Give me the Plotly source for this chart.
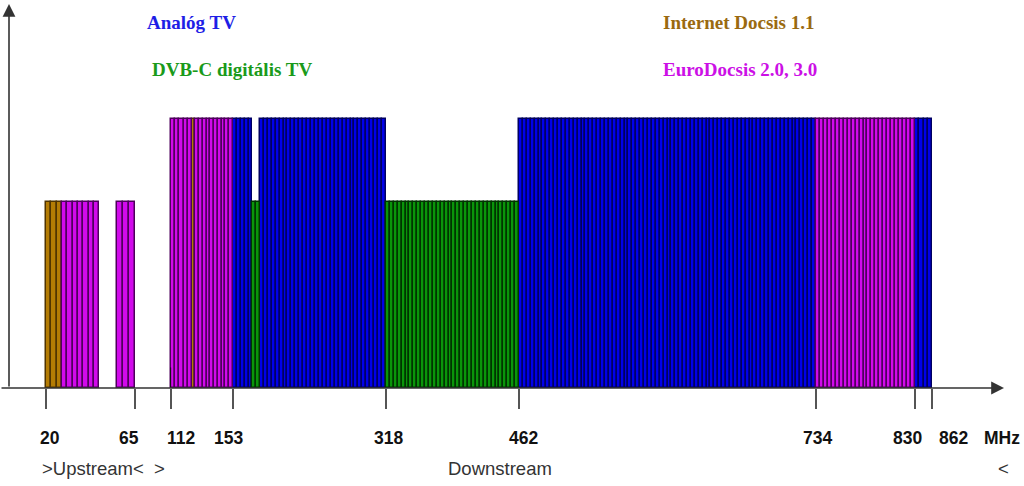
import numpy as np
import plotly.graph_objects as go

# ---------------- data ----------------
# axis breakpoints (MHz) of the non-uniform frequency scale and their relative positions on the drawing
SCALE_MHZ = [20, 65, 112, 153, 318, 462, 734, 830, 862]
SCALE_POS = [46, 135, 171, 233, 386, 519, 816, 915, 932]

TICK_MHZ = [20, 65, 112, 153, 318, 462, 734, 830, 862]
TICK_TEXT = ["20", "65", "112", "153", "318", "462", "734", "830", "862"]

BLOCK_START = [20, 28, 56, 111.5, 112, 126, 128, 153, 174, 182, 318, 462, 734, 830]
BLOCK_END = [28, 47, 65, 112, 126, 128, 153, 174, 182, 318, 462, 734, 830, 862]
BLOCK_SERVICE = ["docsis11", "euro", "euro", "edge", "euro", "docsis11", "euro",
                 "analog", "dvbc", "analog", "dvbc", "analog", "euro", "analog"]
BLOCK_LEVEL = [6.9, 6.9, 6.9, 0.75, 10, 10, 10, 10, 6.9, 10, 6.9, 10, 10, 10]

SERVICES = ["analog", "dvbc", "docsis11", "euro", "edge"]
SERVICE_LABEL = {"analog": "Analóg TV", "dvbc": "DVB-C digitális TV",
                 "docsis11": "Internet Docsis 1.1", "euro": "EuroDocsis 2.0, 3.0", "edge": ""}

# ---------------- style ----------------
FILL = {"analog": "#0000EA", "dvbc": "#0A950A", "docsis11": "#B47C04", "euro": "#D20AEC", "edge": "#111111"}
EDGE = {"analog": "#000060", "dvbc": "#003400", "docsis11": "#503400", "euro": "#4E005C", "edge": "#111111"}
TEXTCOL = {"analog": "#1E1EE6", "dvbc": "#1A9A1A", "docsis11": "#9A6A10", "euro": "#CC10E6"}

PX_PER_UNIT = 26.9
AXIS_PX = 388
H = 486


def scale(f):
    return np.interp(f, SCALE_MHZ, SCALE_POS)


def ydata(px):
    return (AXIS_PX - px) / PX_PER_UNIT


def ypaper(px):
    return (AXIS_PX - px) / AXIS_PX


fig = go.Figure()

for svc in SERVICES:
    xs, ws, ys = [], [], []
    for s, e, sv, lv in zip(BLOCK_START, BLOCK_END, BLOCK_SERVICE, BLOCK_LEVEL):
        if sv != svc:
            continue
        x0, x1 = scale(s), scale(e)
        stripe = 5.3 if e <= 65 else 3.9
        n = max(1, int(round((x1 - x0) / stripe)))
        edges = np.linspace(x0, x1, n + 1)
        if n > 1:
            edges = np.round(edges)
        xs += list((edges[:-1] + edges[1:]) / 2)
        ws += list(np.diff(edges))
        ys += [lv] * n
    fig.add_trace(go.Bar(
        x=xs, y=ys, width=ws, base=0, name=SERVICE_LABEL[svc],
        marker=dict(color=FILL[svc], line=dict(color=EDGE[svc], width=1.5 if svc != "edge" else 0.8)),
        showlegend=False, hoverinfo="skip"))

ann = []
# service labels
legend_items = [("analog", 145, 22), ("dvbc", 150, 69), ("docsis11", 661, 22), ("euro", 661, 69)]
for svc, lx, py in legend_items:
    ann.append(dict(x=lx, y=ypaper(py), xref="x", yref="paper", text=SERVICE_LABEL[svc], showarrow=False,
                    xanchor="left", yanchor="middle",
                    font=dict(family="Liberation Serif", size=19, color=TEXTCOL[svc], weight="bold")))

# tick labels
label_shift = [4, -6, 10, -5, 2, 4, 1, -8, 21]
for f, t, sh in zip(TICK_MHZ, TICK_TEXT, label_shift):
    ann.append(dict(x=scale(f), y=ypaper(438), xref="x", yref="paper", text=t, showarrow=False,
                    xshift=sh, xanchor="center", yanchor="middle",
                    font=dict(family="Liberation Sans", size=17.5, color="#111111", weight="bold")))
ann.append(dict(x=1002, y=ypaper(438), xref="x", yref="paper", text="MHz", showarrow=False,
                xanchor="center", yanchor="middle",
                font=dict(family="Liberation Sans", size=17.5, color="#111111", weight="bold")))

# direction texts
ann.append(dict(x=40, y=ypaper(468), xref="x", yref="paper", text="&gt;Upstream&lt;\u00a0 &gt;", showarrow=False,
                xanchor="left", yanchor="middle", font=dict(family="Liberation Sans", size=18.5, color="#333333")))
ann.append(dict(x=500, y=ypaper(468), xref="x", yref="paper", text="Downstream", showarrow=False,
                xanchor="center", yanchor="middle", font=dict(family="Liberation Sans", size=18.5, color="#333333")))
ann.append(dict(x=1003, y=ypaper(468), xref="x", yref="paper", text="&lt;", showarrow=False,
                xanchor="center", yanchor="middle", font=dict(family="Liberation Sans", size=18.5, color="#333333")))

# axis arrows
ann.append(dict(x=9, y=ydata(4), ax=9, ay=ydata(AXIS_PX), xref="x", yref="y", axref="x", ayref="y",
                text="", showarrow=True, arrowhead=2, arrowsize=1.6, arrowwidth=1.6, arrowcolor="#333333"))
ann.append(dict(x=1004, y=0, ax=0, ay=0, xref="x", yref="y", axref="x", ayref="y",
                text="", showarrow=True, arrowhead=2, arrowsize=1.6, arrowwidth=1.6, arrowcolor="#333333"))

fig.update_layout(
    width=1024, height=H,
    margin=dict(l=0, r=0, t=0, b=H - AXIS_PX, pad=0),
    paper_bgcolor="white", plot_bgcolor="white",
    barmode="overlay", bargap=0,
    annotations=ann,
    xaxis=dict(range=[0, 1024], showgrid=False, zeroline=False, showline=False,
               tickvals=[scale(f) for f in TICK_MHZ], ticktext=TICK_TEXT, showticklabels=False,
               ticks="outside", ticklen=20, tickwidth=1.5, tickcolor="#555555", fixedrange=True),
    yaxis=dict(range=[0, ydata(0)], showgrid=False, zeroline=False, showline=False,
               showticklabels=False, ticks="", fixedrange=True),
)

fig.write_html("out.html", config={"displayModeBar": False},
               post_script="document.body.style.margin='0';document.body.style.overflow='hidden';")
